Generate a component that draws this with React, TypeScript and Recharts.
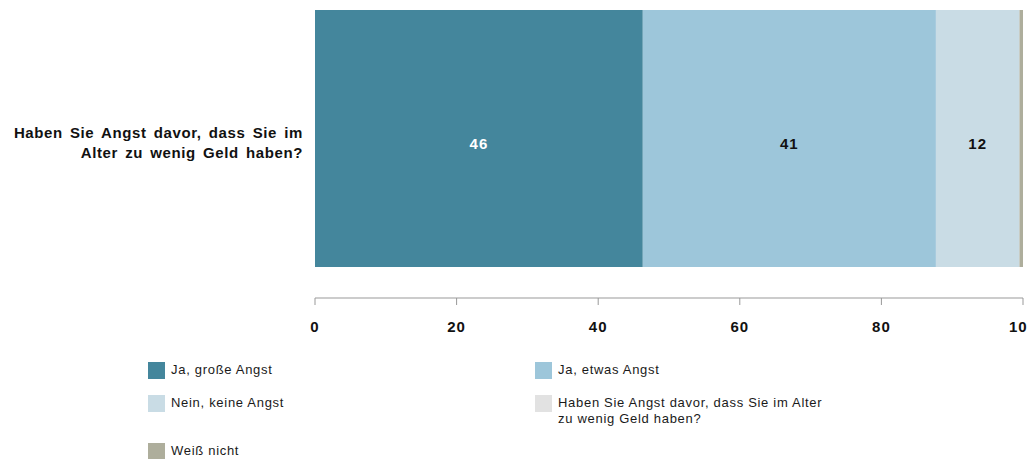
import React from "react";
import { BarChart, Bar, XAxis, YAxis, LabelList, Legend } from "recharts";

const categories = ["Haben Sie Angst davor, dass Sie im Alter zu wenig Geld haben?"];
const categoryLines = [["Haben Sie Angst davor, dass Sie im", "Alter zu wenig Geld haben?"]];
const seriesNames = [
  "Ja, große Angst",
  "Ja, etwas Angst",
  "Nein, keine Angst",
  "Haben Sie Angst davor, dass Sie im Alter zu wenig Geld haben?",
  "Weiß nicht",
];
const seriesKeys = ["gross", "etwas", "keine", "frage", "weiss"];
const seriesColors = ["#44869c", "#9dc6da", "#c9dce5", "#e2e2e2", "#aeae9c"];
const labelColors = ["#ffffff", "#111111", "#111111", "#111111", "#111111"];
const grossValues = [46.3];
const etwasValues = [41.4];
const keineValues = [11.8];
const frageValues = [0];
const weissValues = [0.5];
const xTicks = [0, 20, 40, 60, 80, 100];

const valueLists = [grossValues, etwasValues, keineValues, frageValues, weissValues];
const data = categories.map((c, i) => {
  const row: Record<string, any> = { q: c, idx: i };
  seriesKeys.forEach((k, s) => {
    row[k] = valueLists[s][i];
  });
  return row;
});

const FONT = "'Liberation Sans', Arial, sans-serif";

const YTick = (props: any) => {
  const { x, y, index } = props;
  const lines = categoryLines[index] || [String(props.payload.value)];
  return (
    <text
      x={x}
      y={y}
      textAnchor="end"
      fontFamily={FONT}
      fontSize={15}
      fontWeight="bold"
      fill="#111"
      letterSpacing={0.6}
      wordSpacing={2.5}
    >
      {lines.map((l: string, i: number) => (
        <tspan key={i} x={x} dy={i === 0 ? -1 : 20}>
          {l}
        </tspan>
      ))}
    </text>
  );
};

const makeLabel = (color: string) => (props: any) => {
  const { x, y, width, height, value } = props;
  if (!value) return null;
  return (
    <text
      x={Number(x) + Number(width) / 2}
      y={Number(y) + Number(height) / 2 + 5}
      textAnchor="middle"
      dominantBaseline="central"
      fontFamily={FONT}
      fontSize={15}
      fontWeight="bold"
      letterSpacing={1}
      fill={color}
    >
      {Math.round(Number(value))}
    </text>
  );
};

const LegendContent = () => (
  <div
    style={{
      display: "grid",
      gridTemplateColumns: "387px 300px",
      rowGap: 16,
      paddingLeft: 148,
      fontFamily: FONT,
      fontSize: 13,
      color: "#1a1a1a",
      textAlign: "left",
    }}
  >
    {seriesNames.map((n, i) => (
      <div key={n} style={{ display: "flex", alignItems: "flex-start" }}>
        <div style={{ width: 17, height: 17, background: seriesColors[i], flex: "none" }} />
        <div style={{ marginLeft: 6, lineHeight: "16px", maxWidth: 280, letterSpacing: 0.7 }}>{n}</div>
      </div>
    ))}
  </div>
);

const XTick = (props: any) => {
  const { x, y, payload } = props;
  return (
    <text
      x={x}
      y={y}
      dy="0.71em"
      textAnchor="middle"
      fontFamily={FONT}
      fontSize={15}
      fontWeight="bold"
      letterSpacing={1}
      fill="#111"
    >
      {payload.value}
    </text>
  );
};

export default function App() {
  return (
    <div style={{ position: "absolute", left: 0, top: 0, width: 1027, height: 459, background: "#fff" }}>
      <BarChart
        width={1027}
        height={459}
        data={data}
        layout="vertical"
        margin={{ top: 10, right: 4, bottom: 0, left: 0 }}
        barCategoryGap={0}
      >
        <XAxis
          type="number"
          domain={[0, 100]}
          ticks={xTicks}
          height={161}
          axisLine={{ stroke: "#999" }}
          tickLine={{ stroke: "#999" }}
          tickSize={7}
          tickMargin={16}
          tick={<XTick />}
          interval={0}
        />
        <YAxis
          type="category"
          dataKey="q"
          width={315}
          axisLine={false}
          tickLine={false}
          tick={<YTick />}
          tickMargin={6}
          padding={{ top: 0, bottom: 31 }}
        />
        <Legend
          layout="horizontal"
          verticalAlign="middle"
          align="center"
          content={<LegendContent />}
          wrapperStyle={{ top: 362, left: 0, width: 1027 }}
        />
        {seriesKeys.map((k, i) => (
          <Bar key={k} dataKey={k} stackId="a" fill={seriesColors[i]} isAnimationActive={false} name={seriesNames[i]}>
            {i < 3 && <LabelList dataKey={k} content={makeLabel(labelColors[i])} />}
          </Bar>
        ))}
      </BarChart>
    </div>
  );
}
